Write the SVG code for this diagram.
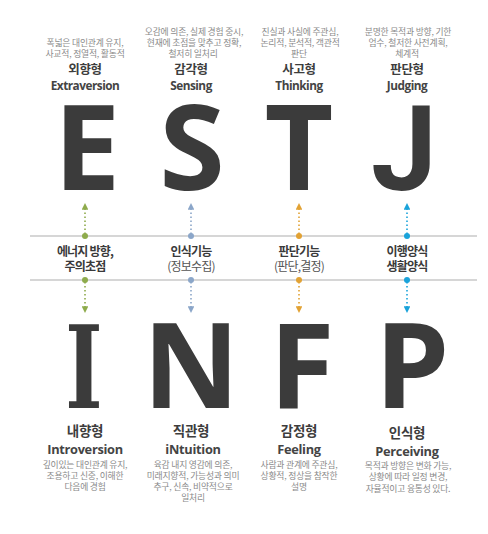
<svg xmlns="http://www.w3.org/2000/svg" width="488" height="534" viewBox="0 0 488 534">
<style>
.big{font-family:"Open Sans","Liberation Sans",sans-serif;font-weight:700;font-size:119px;fill:#3b3b3b;text-anchor:middle}
.bigJ{font-family:Roboto,"Open Sans",sans-serif;font-weight:700;font-size:118px;fill:#3b3b3b;text-anchor:middle}
.bigI{font-family:"DejaVu Serif",serif;font-weight:700;font-size:114px;fill:#3b3b3b;text-anchor:middle}
.desc{font-family:"Noto Sans CJK KR","Noto Sans",sans-serif;font-size:8.8px;fill:#8a8a8a;text-anchor:middle;letter-spacing:-0.2px}
.kt{font-family:"Noto Sans CJK KR",sans-serif;font-weight:700;font-size:12.5px;fill:#3d3d3d;text-anchor:middle;letter-spacing:-0.3px}
.kb{font-family:"Noto Sans CJK KR",sans-serif;font-weight:700;font-size:13.5px;fill:#3d3d3d;text-anchor:middle;letter-spacing:-0.3px}
.en{font-family:"Open Sans","Noto Sans",sans-serif;font-weight:700;font-size:11.8px;fill:#444;text-anchor:middle;letter-spacing:-0.5px}
.enb{font-family:"Open Sans","Noto Sans",sans-serif;font-weight:700;font-size:12.8px;fill:#444;text-anchor:middle;letter-spacing:-0.3px}
.mid{font-family:"Noto Sans CJK KR",sans-serif;font-weight:700;font-size:12px;fill:#3a3a3a;text-anchor:middle;letter-spacing:-0.8px}
.lt{font-weight:400;fill:#555}
.hl{stroke:#c9c9c9;stroke-width:1.5}
.dl{fill:none;stroke-width:1.6;stroke-dasharray:1.6 2.4}
</style>
<defs>
<marker id="mg" viewBox="0 0 8 8" refX="1" refY="4" markerWidth="4.2" markerHeight="4.2" orient="auto"><path d="M0,0L8,4L0,8z" fill="#8eab4c"/></marker>
<marker id="mb" viewBox="0 0 8 8" refX="1" refY="4" markerWidth="4.2" markerHeight="4.2" orient="auto"><path d="M0,0L8,4L0,8z" fill="#8ba6c9"/></marker>
<marker id="mo" viewBox="0 0 8 8" refX="1" refY="4" markerWidth="4.2" markerHeight="4.2" orient="auto"><path d="M0,0L8,4L0,8z" fill="#e2a234"/></marker>
<marker id="mc" viewBox="0 0 8 8" refX="1" refY="4" markerWidth="4.2" markerHeight="4.2" orient="auto"><path d="M0,0L8,4L0,8z" fill="#1aa3da"/></marker>
</defs>
<rect width="488" height="534" fill="#fff"/>

<g id="axis-lines">
<line class="hl" x1="30" y1="236" x2="477" y2="236"/>
<line class="hl" x1="30" y1="280" x2="477" y2="280"/>
</g>

<g id="connectors">
<path class="dl" stroke="#8eab4c" d="M85,234V209" marker-end="url(#mg)"/>
<path class="dl" stroke="#8eab4c" d="M85,282V307" marker-end="url(#mg)"/>
<path class="dl" stroke="#8ba6c9" d="M191,234V209" marker-end="url(#mb)"/>
<path class="dl" stroke="#8ba6c9" d="M191,282V307" marker-end="url(#mb)"/>
<path class="dl" stroke="#e2a234" d="M299,234V209" marker-end="url(#mo)"/>
<path class="dl" stroke="#e2a234" d="M299,282V307" marker-end="url(#mo)"/>
<path class="dl" stroke="#1aa3da" d="M407,234V209" marker-end="url(#mc)"/>
<path class="dl" stroke="#1aa3da" d="M407,282V307" marker-end="url(#mc)"/>
<circle cx="85" cy="236" r="3" fill="#8eab4c"/><circle cx="85" cy="280" r="3" fill="#8eab4c"/>
<circle cx="191" cy="236" r="3" fill="#8ba6c9"/><circle cx="191" cy="280" r="3" fill="#8ba6c9"/>
<circle cx="299" cy="236" r="3" fill="#e2a234"/><circle cx="299" cy="280" r="3" fill="#e2a234"/>
<circle cx="407" cy="236" r="3" fill="#1aa3da"/><circle cx="407" cy="280" r="3" fill="#1aa3da"/>
</g>

<g id="E">
<text class="desc" x="85" y="46">폭넓은 대인관계 유지,<tspan x="85" dy="11">사교적, 정열적, 활동적</tspan></text>
<text class="kt" x="85" y="74">외향형</text>
<text class="en" x="85" y="90">Extraversion</text>
<text class="big" x="87" y="190">E</text>
</g>
<g id="S">
<text class="desc" x="194" y="35">오감에 의존, 실제 경험 중시,<tspan x="194" dy="11">현재에 초점을 맞추고 정확,</tspan><tspan x="193" dy="11">철저히 일처리</tspan></text>
<text class="kt" x="191" y="74">감각형</text>
<text class="en" x="191" y="90">Sensing</text>
<text class="big" x="192" y="190">S</text>
</g>
<g id="T">
<text class="desc" x="300" y="35">진실과 사실에 주관심,<tspan x="300" dy="11">논리적, 분석적, 객관적</tspan><tspan x="299" dy="11">판단</tspan></text>
<text class="kt" x="299" y="74">사고형</text>
<text class="en" x="299" y="90">Thinking</text>
<text class="big" x="299" y="190">T</text>
</g>
<g id="J">
<text class="desc" x="408" y="35">분명한 목적과 방향, 기한<tspan x="408" dy="11">엄수, 철저한 사전계획,</tspan><tspan x="407" dy="11">체계적</tspan></text>
<text class="kt" x="407" y="74">판단형</text>
<text class="en" x="407" y="90">Judging</text>
<text class="bigJ" x="404" y="190">J</text>
</g>

<g id="axis-EI">
<text class="mid" x="85" y="256">에너지 방향,<tspan x="85" dy="15">주의초점</tspan></text>
</g>
<g id="axis-SN">
<text class="mid" x="191" y="256">인식기능<tspan class="lt" x="191" dy="15">(정보수집)</tspan></text>
</g>
<g id="axis-TF">
<text class="mid" x="299" y="256">판단기능<tspan class="lt" x="299" dy="15">(판단,결정)</tspan></text>
</g>
<g id="axis-JP">
<text class="mid" x="407" y="256">이행양식<tspan x="407" dy="15">생활양식</tspan></text>
</g>

<g id="I">
<text class="bigI" x="0" y="408" transform="translate(84,0) scale(0.7,1)">I</text>
<text class="kb" x="85" y="436">내향형</text>
<text class="enb" x="85" y="454">Introversion</text>
<text class="desc" x="85" y="467.5">깊이있는 대인관계 유지,<tspan x="85" dy="11.3">조용하고 신중, 이해한</tspan><tspan x="85" dy="11.3">다음에 경험</tspan></text>
</g>
<g id="N">
<text class="big" x="191" y="408">N</text>
<text class="kb" x="191" y="436">직관형</text>
<text class="enb" x="193" y="454">iNtuition</text>
<text class="desc" x="193" y="467.5">육감 내지 영감에 의존,<tspan x="193" dy="11.3">미래지향적, 가능성과 의미</tspan><tspan x="193" dy="11.3">추구, 신속, 비약적으로</tspan><tspan x="193" dy="11.3">일처리</tspan></text>
</g>
<g id="F">
<text class="big" x="302" y="408">F</text>
<text class="kb" x="299" y="436">감정형</text>
<text class="enb" x="299" y="453.5">Feeling</text>
<text class="desc" x="299" y="467.5">사람과 관계에 주관심,<tspan x="299" dy="11.3">상황적, 정상을 참작한</tspan><tspan x="299" dy="11.3">설명</tspan></text>
</g>
<g id="P">
<text class="big" x="412" y="408">P</text>
<text class="kb" x="407" y="438">인식형</text>
<text class="enb" x="407" y="456">Perceiving</text>
<text class="desc" x="408" y="469">목적과 방향은 변화 가능,<tspan x="408" dy="11.3">상황에 따라 일정 변경,</tspan><tspan x="408" dy="11.3">자율적이고 융통성 있다.</tspan></text>
</g>
</svg>
